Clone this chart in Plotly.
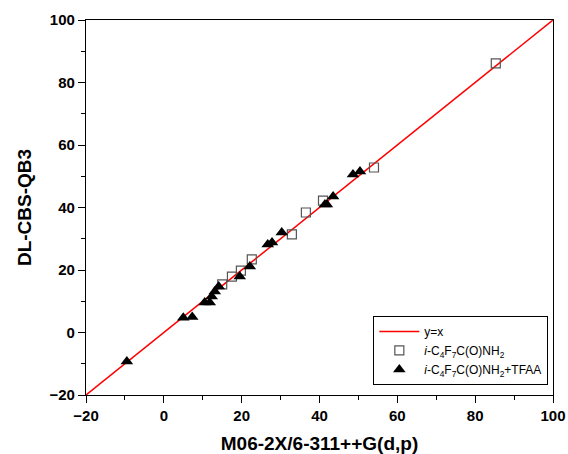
import plotly.graph_objects as go

# y = x reference line
line_x = [-20, 100]
line_y = [-20, 100]

# i-C4F7C(O)NH2 (open squares)
amide_x = [15.0, 17.5, 19.8, 22.6, 32.9, 36.5, 40.9, 54.0, 85.3]
amide_y = [15.4, 17.9, 19.8, 23.4, 31.4, 38.4, 42.2, 52.8, 86.1]

# i-C4F7C(O)NH2 + TFAA (filled triangles)
tfaa_x = [-9.5, 5.0, 7.3, 10.5, 11.8, 12.3, 13.1, 14.1, 19.5, 22.1, 26.7, 27.8, 30.3, 41.4, 41.9, 43.5, 48.6, 50.4]
tfaa_y = [-9.3, 4.7, 5.0, 9.6, 9.6, 11.5, 13.1, 14.7, 17.9, 21.1, 28.2, 28.8, 32.0, 41.0, 41.0, 43.5, 50.6, 51.5]

FONT = 'Liberation Sans, Arial'

fig = go.Figure()

fig.add_trace(go.Scatter(x=line_x, y=line_y, mode='lines', name='y=x',
                         line=dict(color='#ff0000', width=1.5)))
fig.add_trace(go.Scatter(x=amide_x, y=amide_y, mode='markers',
                         name='<i>i</i>-C<sub>4</sub>F<sub>7</sub>C(O)NH<sub>2</sub>',
                         marker=dict(symbol='square-open', size=9, color='#555555',
                                     line=dict(width=1.2))))
fig.add_trace(go.Scatter(x=tfaa_x, y=tfaa_y, mode='markers',
                         name='<i>i</i>-C<sub>4</sub>F<sub>7</sub>C(O)NH<sub>2</sub>+TFAA',
                         marker=dict(symbol='triangle-up', size=11, color='black')))

axis_style = dict(
    range=[-20, 100],
    dtick=20,
    automargin=False,
    showgrid=False,
    zeroline=False,
    showline=True,
    linecolor='black',
    linewidth=1.2,
    mirror=True,
    ticks='outside',
    ticklen=7,
    tickwidth=1.2,
    tickcolor='black',
    tickfont=dict(family=FONT, size=15, color='black', weight='bold'),
    minor=dict(dtick=10, ticks='outside', ticklen=4, tickwidth=1.2, tickcolor='black'),
)

fig.update_layout(
    width=568,
    height=454,
    margin=dict(l=86, r=15, t=20, b=59),
    plot_bgcolor='white',
    paper_bgcolor='white',
    xaxis=dict(axis_style,
               title=dict(text='M06-2X/6-311++G(d,p)', standoff=15,
                          font=dict(family=FONT, size=19, color='black', weight='bold'))),
    yaxis=dict(axis_style,
               title=dict(text='DL-CBS-QB3', standoff=12,
                          font=dict(family=FONT, size=19, color='black', weight='bold'))),
    legend=dict(x=0.99, y=0.027, xanchor='right', yanchor='bottom',
                bordercolor='black', borderwidth=1, bgcolor='white',
                font=dict(family=FONT, size=12, color='black'),
                tracegroupgap=0, itemwidth=40),
    showlegend=True,
)

# drop the default body margin so the figure fills the window exactly
fig.write_html("out.html", config={'displayModeBar': False},
               post_script="document.body.style.margin='0';")
